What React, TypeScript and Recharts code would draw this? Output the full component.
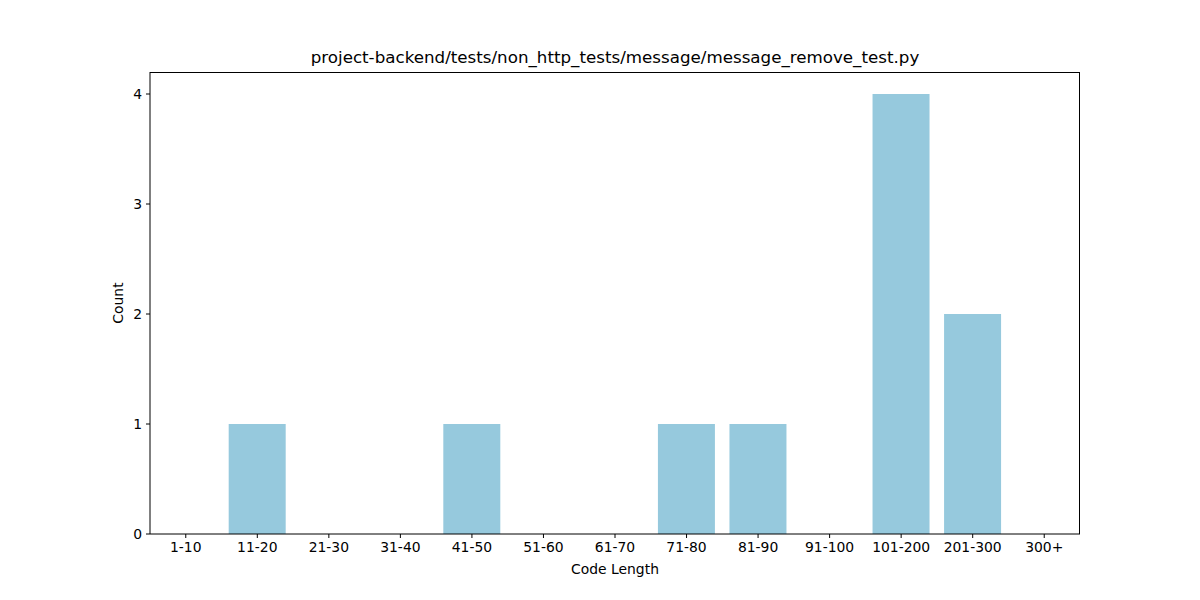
import React from "react";
import { BarChart, Bar, XAxis, YAxis } from "recharts";

const categories = ["1-10", "11-20", "21-30", "31-40", "41-50", "51-60", "61-70", "71-80", "81-90", "91-100", "101-200", "201-300", "300+"];
const counts = [0, 1, 0, 0, 1, 0, 0, 1, 1, 0, 4, 2, 0];
const yTicks = [0, 1, 2, 3, 4];

const data = categories.map((c, i) => ({ name: c, count: counts[i] }));

const font = "'DejaVu Sans', sans-serif";
const tickStyle = { fontSize: 13.9, fill: "#000", fontFamily: font };

export default function App() {
  return (
    <div style={{ position: "absolute", left: 0, top: 0, width: 1200, height: 600, background: "#fff", fontFamily: font }}>
      <div style={{ position: "absolute", left: 150, width: 930, top: 47, textAlign: "center", fontSize: 16.7, lineHeight: "20px", color: "#000" }}>
        project-backend/tests/non_http_tests/message/message_remove_test.py
      </div>
      <div style={{ position: "absolute", left: 150, width: 930, top: 560, textAlign: "center", fontSize: 13.9, lineHeight: "18px", color: "#000" }}>
        Code Length
      </div>
      <div style={{ position: "absolute", left: 118, top: 303, width: 0, height: 0 }}>
        <div style={{ position: "absolute", transform: "translate(-50%, -50%) rotate(-90deg)", fontSize: 13.9, whiteSpace: "nowrap", color: "#000", lineHeight: "18px" }}>
          Count
        </div>
      </div>
      <BarChart
        width={1200}
        height={600}
        data={data}
        margin={{ top: 72, right: 120, bottom: 26, left: 90 }}
        barCategoryGap="10%"
        style={{ position: "absolute", left: 0, top: 0 }}
      >
        <XAxis
          dataKey="name"
          height={40}
          tick={tickStyle}
          tickSize={4}
          tickMargin={4}
          interval={0}
          stroke="#000"
          axisLine={{ stroke: "#000", strokeWidth: 1 }}
          tickLine={{ stroke: "#000" }}
        />
        <YAxis
          width={60}
          domain={[0, 4.2]}
          ticks={yTicks}
          tick={tickStyle}
          tickSize={4}
          tickMargin={4}
          axisLine={{ stroke: "#000" }}
          tickLine={{ stroke: "#000" }}
          allowDataOverflow
        />
        <Bar dataKey="count" fill="#96C9DD" isAnimationActive={false} />
      </BarChart>
      <div style={{ position: "absolute", left: 150, top: 72, width: 930, height: 462, boxSizing: "border-box", borderTop: "1px solid #000", borderRight: "1px solid #000", pointerEvents: "none" }} />
    </div>
  );
}
